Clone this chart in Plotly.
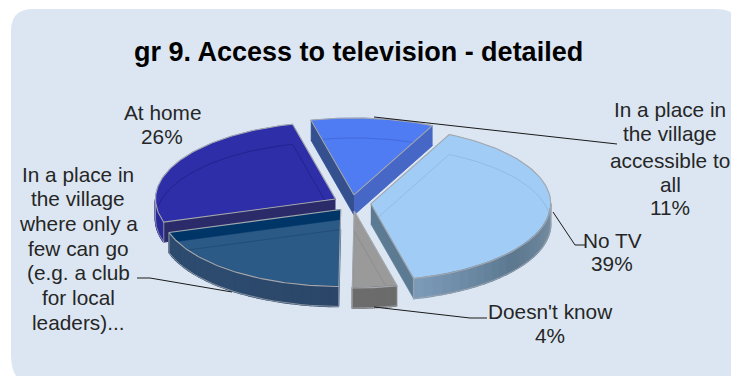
import numpy as np
import plotly.graph_objects as go

# Survey shares, clockwise from the first slice
categories = ["No TV", "Doesn't know", "Other place", "At home", "Village place"]
values = [39, 4, 20, 26, 11]
title_text = "gr 9. Access to television - detailed"
label_lines = [
    ["In a place in", "the village", "accessible to", "all", "11%"],
    ["No TV", "39%"],
    ["Doesn't know", "4%"],
    ["In a place in", "the village", "where only a", "few can go", "(e.g. a club", "for local", "leaders)..."],
    ["At home", "26%"],
]

# Pie projection, in page pixels
CX, CY, RX, RY, DEPTH, PULL = 352.0, 203.0, 180.0, 77.0, 20.0, 0.105
START = 25.8

styles = {
    "No TV": dict(top="#A0CCF6", through="#8FB8DC", end="#5C7B93", arc=("#7C92A6", "#5C7890", "#7D9CBA")),
    "Doesn't know": dict(top="#9A9A9A", through="#8A8A8A", arc=("#6C6C6C", "#6C6C6C", "#6C6C6C")),
    "Other place": dict(top="#2B5A86", through="#1F4A73", arc=("#2B4668", "#2D4B6F", "#2D4B6F"), band="#003567"),
    "At home": dict(top="#2E2EA8", through="#20208A", start="#2C2B6A", arc=("#2B2B98", "#2B2B98", "#2B2B98")),
    "Village place": dict(top="#4F7BF3", through="#3F66D6", start="#35508F", end="#4767C6"),
}
edge = "#A3A7AD"


def rim(t, apex, drop=0.0):
    t = np.radians(t)
    return apex[0] + RX * np.sin(t), apex[1] - RY * np.cos(t) + drop


def blend(stops, f):
    rgb = [[int(c[i:i + 2], 16) for i in (1, 3, 5)] for c in stops]
    f = f * (len(rgb) - 1)
    k = min(int(f), len(rgb) - 2)
    mix = [a + (b - a) * (f - k) for a, b in zip(rgb[k], rgb[k + 1])]
    return "rgb(%d,%d,%d)" % tuple(mix)


def patch(xs, ys, fill, width=0.5):
    return go.Scatter(x=list(xs), y=list(ys), mode="lines", fill="toself", fillcolor=fill,
                      line=dict(color=fill, width=width),
                      hoverinfo="skip", showlegend=False)


def stroke(xs, ys, color, width=1.0):
    return go.Scatter(x=list(xs), y=list(ys), mode="lines", line=dict(color=color, width=width),
                      hoverinfo="skip", showlegend=False)


def radial_face(t, apex, depth, color):
    ex, ey = rim(t, apex)
    return patch([apex[0], ex, ex, apex[0]], [apex[1], ey, ey + depth, apex[1] + depth], color)


def slice_traces(name, t0, t1):
    st = styles[name]
    mid = np.radians((t0 + t1) / 2)
    apex = (CX + PULL * RX * np.sin(mid), CY - PULL * RY * np.cos(mid))
    ang = np.linspace(t0, t1, 80)
    ax, ay = rim(ang, apex)
    outline_x = np.r_[apex[0], ax, apex[0]]
    outline_y = np.r_[apex[1], ay, apex[1]]

    out = [patch(outline_x, outline_y, st["top"])]
    # The bottom face shows faintly through the translucent top
    out.append(stroke(outline_x, outline_y + DEPTH, st["through"], 0.8))
    if "band" in st:
        out.append(radial_face(t1, apex, 10, st["band"]))
    if np.sin(np.radians(t0)) < 0 and "start" in st:
        out.append(radial_face(t0, apex, DEPTH, st["start"]))
    if np.sin(np.radians(t1)) > 0 and "end" in st:
        out.append(radial_face(t1, apex, DEPTH, st["end"]))
    # Outer wall, shaded in short strips; thick strip borders close the seams
    lo, hi = max(t0, 90.0), min(t1, 270.0)
    if "arc" in st and hi > lo:
        edges = np.linspace(lo, hi, 25)
        for a, b in zip(edges[:-1], edges[1:]):
            seg = np.linspace(a, b, 4)
            sx, sy = rim(seg, apex)
            colour = blend(st["arc"], ((a + b) / 2 - lo) / (hi - lo))
            out.append(patch(np.r_[sx, sx[::-1]], np.r_[sy, sy[::-1] + DEPTH], colour, width=1.6))
        bx, by = rim(edges, apex)
        out.append(stroke(bx, by + DEPTH, edge, 0.8))
        for e in (lo, hi):
            ex, ey = rim(e, apex)
            out.append(stroke([ex, ex], [ey, ey + DEPTH], edge, 0.8))
    out.append(stroke(outline_x, outline_y, edge, 1.1))
    return out


spans = {}
t = START
for name, v in zip(categories, values):
    spans[name] = (t, t + v * 3.6)
    t += v * 3.6

fig = go.Figure()
for name in ["At home", "Village place", "No TV", "Other place", "Doesn't know"]:
    for trace in slice_traces(name, *spans[name]):
        fig.add_trace(trace)

# Rounded panel that runs off the right and bottom of the page
panel = ("M 11 31 Q 11 9 33 9 L 716 9 Q 742 9 742 35 L 742 385 L 36 385 Q 11 385 11 355 Z")
leaders = [
    "M 374 117 L 617 144",
    "M 553 212 L 575 245 L 585 245",
    "M 374 307 L 470 318 L 487 318",
    "M 137 278 L 150 278 L 232 292",
]
shapes = [dict(type="path", path=panel, xref="x", yref="y", fillcolor="#DCE6F2",
               line=dict(width=0), layer="below")]
shapes += [dict(type="path", path=p, xref="x", yref="y", line=dict(color="#1A1A1A", width=1), layer="above")
           for p in leaders]

# Label anchors: centre x and the y of each text row
label_anchor = [
    (670, [109, 133, 160, 184, 207]),
    (612, [240, 263]),
    (550, [311, 335]),
    (78, [174, 198, 223, 248, 272, 297, 322]),
    (162, [112, 136]),
]
annotations = [dict(x=358, y=52, text="<b>%s</b>" % title_text, showarrow=False, xanchor="center", yanchor="middle",
                    font=dict(family="Liberation Sans", size=27, color="#000000"))]
for rows, (lx, ys) in zip(label_lines, label_anchor):
    for row, ly in zip(rows, ys):
        annotations.append(dict(x=lx, y=ly, text=row, showarrow=False, xanchor="center", yanchor="middle",
                                font=dict(family="Liberation Sans", size=20.8, color="#262626")))

fig.update_layout(
    width=731, height=376, margin=dict(l=0, r=0, t=0, b=0),
    paper_bgcolor="#FFFFFF", plot_bgcolor="rgba(0,0,0,0)",
    xaxis=dict(range=[0, 731], visible=False, fixedrange=True),
    yaxis=dict(range=[376, 0], visible=False, fixedrange=True),
    shapes=shapes, annotations=annotations, showlegend=False,
)
fig.write_html("out.html", config=dict(displayModeBar=False))
